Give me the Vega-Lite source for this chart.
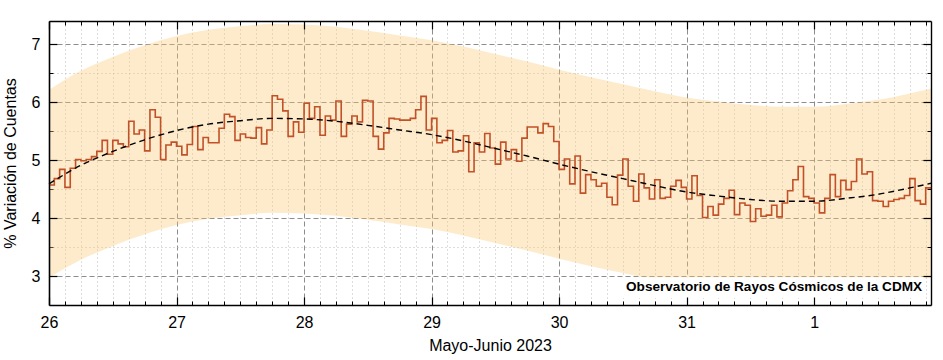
{
  "$schema": "https://vega.github.io/schema/vega-lite/v6.json",
  "width": 882,
  "height": 284,
  "autosize": {"type": "none"},
  "padding": {"left": 49, "top": 21, "right": 12, "bottom": 55},
  "background": "white",
  "config": {
    "font": "Liberation Sans",
    "view": {"stroke": null},
    "axis": {
      "labelFont": "Liberation Sans",
      "titleFont": "Liberation Sans",
      "labelFontSize": 16,
      "titleFontSize": 16,
      "labelColor": "#000",
      "titleColor": "#000",
      "titleFontWeight": "normal",
      "tickColor": "#000",
      "domainColor": "#000"
    }
  },
  "datasets": {
    "steps": [
      {"t": "2023-05-26T00:00:00Z", "v": 4.57}, {"t": "2023-05-26T01:00:00Z", "v": 4.68}, {"t": "2023-05-26T02:00:00Z", "v": 4.84}, {"t": "2023-05-26T03:00:00Z", "v": 4.53},
      {"t": "2023-05-26T04:00:00Z", "v": 4.86}, {"t": "2023-05-26T05:00:00Z", "v": 5.01}, {"t": "2023-05-26T06:00:00Z", "v": 4.99}, {"t": "2023-05-26T07:00:00Z", "v": 5.01},
      {"t": "2023-05-26T08:00:00Z", "v": 5.06}, {"t": "2023-05-26T09:00:00Z", "v": 5.15}, {"t": "2023-05-26T10:00:00Z", "v": 5.34}, {"t": "2023-05-26T11:00:00Z", "v": 5.10},
      {"t": "2023-05-26T12:00:00Z", "v": 5.34}, {"t": "2023-05-26T13:00:00Z", "v": 5.28}, {"t": "2023-05-26T14:00:00Z", "v": 5.23}, {"t": "2023-05-26T15:00:00Z", "v": 5.67},
      {"t": "2023-05-26T16:00:00Z", "v": 5.45}, {"t": "2023-05-26T17:00:00Z", "v": 5.52}, {"t": "2023-05-26T18:00:00Z", "v": 5.16}, {"t": "2023-05-26T19:00:00Z", "v": 5.87},
      {"t": "2023-05-26T20:00:00Z", "v": 5.74}, {"t": "2023-05-26T21:00:00Z", "v": 5.01}, {"t": "2023-05-26T22:00:00Z", "v": 5.26}, {"t": "2023-05-26T23:00:00Z", "v": 5.31},
      {"t": "2023-05-27T00:00:00Z", "v": 5.24}, {"t": "2023-05-27T01:00:00Z", "v": 5.09}, {"t": "2023-05-27T02:00:00Z", "v": 5.27}, {"t": "2023-05-27T03:00:00Z", "v": 5.58},
      {"t": "2023-05-27T04:00:00Z", "v": 5.18}, {"t": "2023-05-27T05:00:00Z", "v": 5.39}, {"t": "2023-05-27T06:00:00Z", "v": 5.30}, {"t": "2023-05-27T07:00:00Z", "v": 5.30},
      {"t": "2023-05-27T08:00:00Z", "v": 5.55}, {"t": "2023-05-27T09:00:00Z", "v": 5.79}, {"t": "2023-05-27T10:00:00Z", "v": 5.75}, {"t": "2023-05-27T11:00:00Z", "v": 5.34},
      {"t": "2023-05-27T12:00:00Z", "v": 5.45}, {"t": "2023-05-27T13:00:00Z", "v": 5.39}, {"t": "2023-05-27T14:00:00Z", "v": 5.38}, {"t": "2023-05-27T15:00:00Z", "v": 5.56},
      {"t": "2023-05-27T16:00:00Z", "v": 5.28}, {"t": "2023-05-27T17:00:00Z", "v": 5.52}, {"t": "2023-05-27T18:00:00Z", "v": 6.11}, {"t": "2023-05-27T19:00:00Z", "v": 6.05},
      {"t": "2023-05-27T20:00:00Z", "v": 5.85}, {"t": "2023-05-27T21:00:00Z", "v": 5.41}, {"t": "2023-05-27T22:00:00Z", "v": 5.66}, {"t": "2023-05-27T23:00:00Z", "v": 5.48},
      {"t": "2023-05-28T00:00:00Z", "v": 5.98}, {"t": "2023-05-28T01:00:00Z", "v": 5.72}, {"t": "2023-05-28T02:00:00Z", "v": 5.92}, {"t": "2023-05-28T03:00:00Z", "v": 5.43},
      {"t": "2023-05-28T04:00:00Z", "v": 5.76}, {"t": "2023-05-28T05:00:00Z", "v": 5.69}, {"t": "2023-05-28T06:00:00Z", "v": 6.02}, {"t": "2023-05-28T07:00:00Z", "v": 5.41},
      {"t": "2023-05-28T08:00:00Z", "v": 5.62}, {"t": "2023-05-28T09:00:00Z", "v": 5.76}, {"t": "2023-05-28T10:00:00Z", "v": 5.66}, {"t": "2023-05-28T11:00:00Z", "v": 6.03},
      {"t": "2023-05-28T12:00:00Z", "v": 6.02}, {"t": "2023-05-28T13:00:00Z", "v": 5.41}, {"t": "2023-05-28T14:00:00Z", "v": 5.19}, {"t": "2023-05-28T15:00:00Z", "v": 5.47},
      {"t": "2023-05-28T16:00:00Z", "v": 5.72}, {"t": "2023-05-28T17:00:00Z", "v": 5.71}, {"t": "2023-05-28T18:00:00Z", "v": 5.69}, {"t": "2023-05-28T19:00:00Z", "v": 5.69},
      {"t": "2023-05-28T20:00:00Z", "v": 5.72}, {"t": "2023-05-28T21:00:00Z", "v": 5.87}, {"t": "2023-05-28T22:00:00Z", "v": 6.10}, {"t": "2023-05-28T23:00:00Z", "v": 5.52},
      {"t": "2023-05-29T00:00:00Z", "v": 5.72}, {"t": "2023-05-29T01:00:00Z", "v": 5.30}, {"t": "2023-05-29T02:00:00Z", "v": 5.34}, {"t": "2023-05-29T03:00:00Z", "v": 5.51},
      {"t": "2023-05-29T04:00:00Z", "v": 5.14}, {"t": "2023-05-29T05:00:00Z", "v": 5.16}, {"t": "2023-05-29T06:00:00Z", "v": 5.42}, {"t": "2023-05-29T07:00:00Z", "v": 4.80},
      {"t": "2023-05-29T08:00:00Z", "v": 5.30}, {"t": "2023-05-29T09:00:00Z", "v": 5.14}, {"t": "2023-05-29T10:00:00Z", "v": 5.46}, {"t": "2023-05-29T11:00:00Z", "v": 5.21},
      {"t": "2023-05-29T12:00:00Z", "v": 4.93}, {"t": "2023-05-29T13:00:00Z", "v": 5.31}, {"t": "2023-05-29T14:00:00Z", "v": 5.02}, {"t": "2023-05-29T15:00:00Z", "v": 5.18},
      {"t": "2023-05-29T16:00:00Z", "v": 4.98}, {"t": "2023-05-29T17:00:00Z", "v": 5.38}, {"t": "2023-05-29T18:00:00Z", "v": 5.57}, {"t": "2023-05-29T19:00:00Z", "v": 5.57},
      {"t": "2023-05-29T20:00:00Z", "v": 5.47}, {"t": "2023-05-29T21:00:00Z", "v": 5.63}, {"t": "2023-05-29T22:00:00Z", "v": 5.58}, {"t": "2023-05-29T23:00:00Z", "v": 5.32},
      {"t": "2023-05-30T00:00:00Z", "v": 4.84}, {"t": "2023-05-30T01:00:00Z", "v": 5.02}, {"t": "2023-05-30T02:00:00Z", "v": 4.59}, {"t": "2023-05-30T03:00:00Z", "v": 5.07},
      {"t": "2023-05-30T04:00:00Z", "v": 4.43}, {"t": "2023-05-30T05:00:00Z", "v": 4.75}, {"t": "2023-05-30T06:00:00Z", "v": 4.66}, {"t": "2023-05-30T07:00:00Z", "v": 4.55},
      {"t": "2023-05-30T08:00:00Z", "v": 4.60}, {"t": "2023-05-30T09:00:00Z", "v": 4.36}, {"t": "2023-05-30T10:00:00Z", "v": 4.23}, {"t": "2023-05-30T11:00:00Z", "v": 4.74},
      {"t": "2023-05-30T12:00:00Z", "v": 5.02}, {"t": "2023-05-30T13:00:00Z", "v": 4.55}, {"t": "2023-05-30T14:00:00Z", "v": 4.29}, {"t": "2023-05-30T15:00:00Z", "v": 4.76},
      {"t": "2023-05-30T16:00:00Z", "v": 4.52}, {"t": "2023-05-30T17:00:00Z", "v": 4.33}, {"t": "2023-05-30T18:00:00Z", "v": 4.66}, {"t": "2023-05-30T19:00:00Z", "v": 4.34},
      {"t": "2023-05-30T20:00:00Z", "v": 4.36}, {"t": "2023-05-30T21:00:00Z", "v": 4.55}, {"t": "2023-05-30T22:00:00Z", "v": 4.65}, {"t": "2023-05-30T23:00:00Z", "v": 4.53},
      {"t": "2023-05-31T00:00:00Z", "v": 4.33}, {"t": "2023-05-31T01:00:00Z", "v": 4.73}, {"t": "2023-05-31T02:00:00Z", "v": 4.39}, {"t": "2023-05-31T03:00:00Z", "v": 4.01},
      {"t": "2023-05-31T04:00:00Z", "v": 4.20}, {"t": "2023-05-31T05:00:00Z", "v": 4.05}, {"t": "2023-05-31T06:00:00Z", "v": 4.24}, {"t": "2023-05-31T07:00:00Z", "v": 4.34},
      {"t": "2023-05-31T08:00:00Z", "v": 4.48}, {"t": "2023-05-31T09:00:00Z", "v": 4.06}, {"t": "2023-05-31T10:00:00Z", "v": 4.26}, {"t": "2023-05-31T11:00:00Z", "v": 4.22},
      {"t": "2023-05-31T12:00:00Z", "v": 3.94}, {"t": "2023-05-31T13:00:00Z", "v": 4.16}, {"t": "2023-05-31T14:00:00Z", "v": 4.03}, {"t": "2023-05-31T15:00:00Z", "v": 4.05},
      {"t": "2023-05-31T16:00:00Z", "v": 4.22}, {"t": "2023-05-31T17:00:00Z", "v": 4.02}, {"t": "2023-05-31T18:00:00Z", "v": 4.26}, {"t": "2023-05-31T19:00:00Z", "v": 4.47},
      {"t": "2023-05-31T20:00:00Z", "v": 4.66}, {"t": "2023-05-31T21:00:00Z", "v": 4.89}, {"t": "2023-05-31T22:00:00Z", "v": 4.37}, {"t": "2023-05-31T23:00:00Z", "v": 4.34},
      {"t": "2023-06-01T00:00:00Z", "v": 4.26}, {"t": "2023-06-01T01:00:00Z", "v": 4.09}, {"t": "2023-06-01T02:00:00Z", "v": 4.34}, {"t": "2023-06-01T03:00:00Z", "v": 4.75},
      {"t": "2023-06-01T04:00:00Z", "v": 4.37}, {"t": "2023-06-01T05:00:00Z", "v": 4.65}, {"t": "2023-06-01T06:00:00Z", "v": 4.49}, {"t": "2023-06-01T07:00:00Z", "v": 4.63},
      {"t": "2023-06-01T08:00:00Z", "v": 5.02}, {"t": "2023-06-01T09:00:00Z", "v": 4.76}, {"t": "2023-06-01T10:00:00Z", "v": 4.80}, {"t": "2023-06-01T11:00:00Z", "v": 4.30},
      {"t": "2023-06-01T12:00:00Z", "v": 4.29}, {"t": "2023-06-01T13:00:00Z", "v": 4.20}, {"t": "2023-06-01T14:00:00Z", "v": 4.29}, {"t": "2023-06-01T15:00:00Z", "v": 4.32},
      {"t": "2023-06-01T16:00:00Z", "v": 4.34}, {"t": "2023-06-01T17:00:00Z", "v": 4.39}, {"t": "2023-06-01T18:00:00Z", "v": 4.68}, {"t": "2023-06-01T19:00:00Z", "v": 4.30},
      {"t": "2023-06-01T20:00:00Z", "v": 4.24}, {"t": "2023-06-01T21:00:00Z", "v": 4.52}, {"t": "2023-06-01T22:00:00Z", "v": 4.52}
    ],
    "fit": [
      {"t": "2023-05-26T00:00:00Z", "fit": 4.59, "lo": 2.97, "hi": 6.21},
      {"t": "2023-05-26T06:00:00Z", "fit": 4.91, "lo": 3.28, "hi": 6.54},
      {"t": "2023-05-26T12:00:00Z", "fit": 5.15, "lo": 3.52, "hi": 6.78},
      {"t": "2023-05-26T18:00:00Z", "fit": 5.35, "lo": 3.72, "hi": 6.98},
      {"t": "2023-05-27T00:00:00Z", "fit": 5.51, "lo": 3.88, "hi": 7.14},
      {"t": "2023-05-27T06:00:00Z", "fit": 5.62, "lo": 3.99, "hi": 7.25},
      {"t": "2023-05-27T12:00:00Z", "fit": 5.68, "lo": 4.05, "hi": 7.31},
      {"t": "2023-05-27T18:00:00Z", "fit": 5.72, "lo": 4.09, "hi": 7.35},
      {"t": "2023-05-28T00:00:00Z", "fit": 5.71, "lo": 4.08, "hi": 7.34},
      {"t": "2023-05-28T06:00:00Z", "fit": 5.67, "lo": 4.04, "hi": 7.30},
      {"t": "2023-05-28T12:00:00Z", "fit": 5.60, "lo": 3.97, "hi": 7.23},
      {"t": "2023-05-28T18:00:00Z", "fit": 5.52, "lo": 3.89, "hi": 7.15},
      {"t": "2023-05-29T00:00:00Z", "fit": 5.44, "lo": 3.81, "hi": 7.07},
      {"t": "2023-05-29T06:00:00Z", "fit": 5.33, "lo": 3.70, "hi": 6.96},
      {"t": "2023-05-29T12:00:00Z", "fit": 5.20, "lo": 3.57, "hi": 6.83},
      {"t": "2023-05-29T18:00:00Z", "fit": 5.07, "lo": 3.44, "hi": 6.70},
      {"t": "2023-05-30T00:00:00Z", "fit": 4.93, "lo": 3.30, "hi": 6.56},
      {"t": "2023-05-30T06:00:00Z", "fit": 4.80, "lo": 3.17, "hi": 6.43},
      {"t": "2023-05-30T12:00:00Z", "fit": 4.68, "lo": 3.05, "hi": 6.31},
      {"t": "2023-05-30T18:00:00Z", "fit": 4.56, "lo": 2.93, "hi": 6.19},
      {"t": "2023-05-31T00:00:00Z", "fit": 4.45, "lo": 2.82, "hi": 6.08},
      {"t": "2023-05-31T06:00:00Z", "fit": 4.38, "lo": 2.75, "hi": 6.01},
      {"t": "2023-05-31T12:00:00Z", "fit": 4.32, "lo": 2.69, "hi": 5.95},
      {"t": "2023-05-31T18:00:00Z", "fit": 4.29, "lo": 2.66, "hi": 5.92},
      {"t": "2023-06-01T00:00:00Z", "fit": 4.29, "lo": 2.66, "hi": 5.92},
      {"t": "2023-06-01T06:00:00Z", "fit": 4.34, "lo": 2.71, "hi": 5.97},
      {"t": "2023-06-01T12:00:00Z", "fit": 4.41, "lo": 2.78, "hi": 6.04},
      {"t": "2023-06-01T18:00:00Z", "fit": 4.52, "lo": 2.89, "hi": 6.15},
      {"t": "2023-06-01T22:00:00Z", "fit": 4.60, "lo": 2.97, "hi": 6.23}
    ],
    "note": [{"label": "Observatorio de Rayos Cósmicos de la CDMX"}]
  },
  "resolve": {"axis": {"x": "independent", "y": "independent"}},
  "layer": [
    {
      "data": {"name": "fit"},
      "mark": {"type": "area", "interpolate": "monotone", "fill": "#f9c770", "fillOpacity": 0.36},
      "encoding": {
        "x": {
          "field": "t", "type": "temporal",
          "scale": {"type": "utc", "nice": false, "domain": [1685059200000, 1685656800000]},
          "axis": {
            "orient": "bottom",
            "values": [1685059200000, 1685145600000, 1685232000000, 1685318400000, 1685404800000, 1685491200000, 1685577600000],
            "labelExpr": "utcFormat(datum.value, '%-d')",
            "labelFlush": false, "labelPadding": 9, "ticks": false, "domain": false,
            "grid": true, "gridColor": "#8c8c8c", "gridDash": [5, 3], "gridWidth": 1,
            "title": "Mayo-Junio 2023", "titlePadding": 7, "zindex": 0
          }
        },
        "y": {
          "field": "lo", "type": "quantitative",
          "scale": {"domain": [2.5, 7.4], "nice": false, "zero": false},
          "axis": {
            "orient": "left", "values": [3, 4, 5, 6, 7], "labelPadding": 9, "ticks": false, "domain": false,
            "grid": true, "gridColor": "#8c8c8c", "gridDash": [5, 3], "gridWidth": 1,
            "title": "% Variación de Cuentas", "titlePadding": 13, "zindex": 0
          }
        },
        "y2": {"field": "hi"}
      }
    },
    {
      "data": {"name": "steps"},
      "mark": {"type": "line", "interpolate": "step-after", "color": "#c25128", "strokeWidth": 1.6},
      "encoding": {
        "x": {
          "field": "t", "type": "temporal",
          "scale": {"type": "utc", "nice": false, "domain": [1685059200000, 1685656800000]},
          "axis": {
            "orient": "top",
            "values": [1685059200000, 1685145600000, 1685232000000, 1685318400000, 1685404800000, 1685491200000, 1685577600000],
            "labels": false, "ticks": true, "tickSize": -8, "tickWidth": 1.2, "domain": true, "domainWidth": 1.4,
            "grid": false, "title": null, "zindex": 1
          }
        },
        "y": {
          "field": "v", "type": "quantitative",
          "scale": {"domain": [2.5, 7.4], "nice": false, "zero": false},
          "axis": {
            "orient": "right", "values": [3, 4, 5, 6, 7], "labels": false, "ticks": true, "tickSize": -8, "tickWidth": 1.2,
            "domain": true, "domainWidth": 1.4, "grid": false, "title": null, "zindex": 1
          }
        }
      }
    },
    {
      "data": {"name": "fit"},
      "mark": {"type": "line", "interpolate": "monotone", "color": "#000", "strokeWidth": 1.4, "strokeDash": [6, 4]},
      "encoding": {
        "x": {
          "field": "t", "type": "temporal",
          "scale": {"type": "utc", "nice": false, "domain": [1685059200000, 1685656800000]},
          "axis": {
            "orient": "bottom",
            "values": [1685070000000, 1685080800000, 1685091600000, 1685102400000, 1685113200000, 1685124000000, 1685134800000, 1685156400000, 1685167200000, 1685178000000, 1685188800000, 1685199600000, 1685210400000, 1685221200000, 1685242800000, 1685253600000, 1685264400000, 1685275200000, 1685286000000, 1685296800000, 1685307600000, 1685329200000, 1685340000000, 1685350800000, 1685361600000, 1685372400000, 1685383200000, 1685394000000, 1685415600000, 1685426400000, 1685437200000, 1685448000000, 1685458800000, 1685469600000, 1685480400000, 1685502000000, 1685512800000, 1685523600000, 1685534400000, 1685545200000, 1685556000000, 1685566800000, 1685588400000, 1685599200000, 1685610000000, 1685620800000, 1685631600000, 1685642400000, 1685653200000],
            "labels": false, "ticks": true, "tickSize": -4, "tickWidth": 1, "domain": false,
            "grid": true, "gridColor": "#bdbdbd", "gridDash": [1, 3], "gridWidth": 1, "title": null, "zindex": 0
          }
        },
        "y": {
          "field": "fit", "type": "quantitative",
          "scale": {"domain": [2.5, 7.4], "nice": false, "zero": false},
          "axis": {
            "orient": "left", "values": [3.5, 4.5, 5.5, 6.5],
            "labels": false, "ticks": true, "tickSize": -4, "tickWidth": 1, "domain": false,
            "grid": true, "gridColor": "#bdbdbd", "gridDash": [1, 3], "gridWidth": 1, "title": null, "zindex": 0
          }
        }
      }
    },
    {
      "data": {"name": "note"},
      "mark": {"type": "rect", "fill": "white"},
      "encoding": {
        "x": {
          "datum": 1685447400000, "type": "temporal",
          "scale": {"type": "utc", "nice": false, "domain": [1685059200000, 1685656800000]},
          "axis": {
            "orient": "top",
            "values": [1685070000000, 1685080800000, 1685091600000, 1685102400000, 1685113200000, 1685124000000, 1685134800000, 1685156400000, 1685167200000, 1685178000000, 1685188800000, 1685199600000, 1685210400000, 1685221200000, 1685242800000, 1685253600000, 1685264400000, 1685275200000, 1685286000000, 1685296800000, 1685307600000, 1685329200000, 1685340000000, 1685350800000, 1685361600000, 1685372400000, 1685383200000, 1685394000000, 1685415600000, 1685426400000, 1685437200000, 1685448000000, 1685458800000, 1685469600000, 1685480400000, 1685502000000, 1685512800000, 1685523600000, 1685534400000, 1685545200000, 1685556000000, 1685566800000, 1685588400000, 1685599200000, 1685610000000, 1685620800000, 1685631600000, 1685642400000, 1685653200000],
            "labels": false, "ticks": true, "tickSize": -4, "tickWidth": 1, "domain": false, "grid": false, "title": null, "zindex": 1
          }
        },
        "x2": {"datum": 1685652900000},
        "y": {
          "datum": 2.98, "type": "quantitative",
          "scale": {"domain": [2.5, 7.4], "nice": false, "zero": false},
          "axis": {
            "orient": "right", "values": [3.5, 4.5, 5.5, 6.5],
            "labels": false, "ticks": true, "tickSize": -4, "tickWidth": 1, "domain": false, "grid": false, "title": null, "zindex": 1
          }
        },
        "y2": {"datum": 2.62}
      }
    },
    {
      "data": {"name": "note"},
      "mark": {"type": "text", "align": "right", "baseline": "alphabetic", "font": "Liberation Sans", "fontWeight": "bold", "fontSize": 13.6, "color": "#000"},
      "encoding": {
        "x": {
          "datum": 1685650800000, "type": "temporal",
          "scale": {"type": "utc", "nice": false, "domain": [1685059200000, 1685656800000]},
          "axis": {
            "orient": "bottom",
            "values": [1685059200000, 1685145600000, 1685232000000, 1685318400000, 1685404800000, 1685491200000, 1685577600000],
            "labels": false, "ticks": true, "tickSize": -8, "tickWidth": 1.2, "domain": true, "domainWidth": 1.4,
            "grid": false, "title": null, "zindex": 1
          }
        },
        "y": {
          "datum": 2.735, "type": "quantitative",
          "scale": {"domain": [2.5, 7.4], "nice": false, "zero": false},
          "axis": {
            "orient": "left", "values": [3, 4, 5, 6, 7], "labels": false, "ticks": true, "tickSize": -8, "tickWidth": 1.2,
            "domain": true, "domainWidth": 1.6, "grid": false, "title": null, "zindex": 1
          }
        },
        "text": {"field": "label"}
      }
    }
  ]
}
